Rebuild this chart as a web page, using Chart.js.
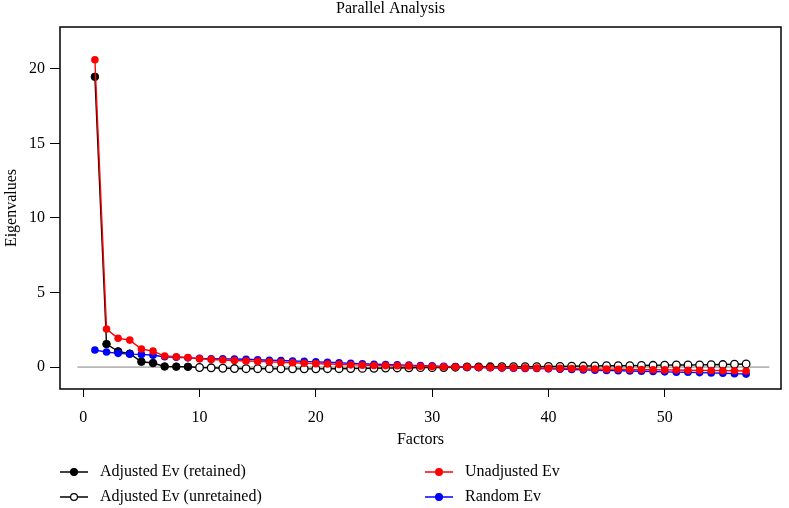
<!DOCTYPE html>
<html>
<head>
<meta charset="utf-8">
<script src="https://cdn.jsdelivr.net/npm/chart.js@4/dist/chart.umd.min.js"></script>
<style>
  html, body { margin: 0; padding: 0; background: #fff; }
  #contenedor { width: 789px; height: 508px; position: relative; }
</style>
</head>
<body>
<div id="contenedor"><canvas id="grafico"></canvas></div>
<script>
// eigenvalues, factor 1..57
const unadjustedEv = [20.6, 2.55, 1.93, 1.81, 1.21, 1.07, 0.74, 0.69, 0.64, 0.55,
  0.51, 0.47, 0.44, 0.41, 0.38, 0.35, 0.32, 0.29, 0.26, 0.23,
  0.21, 0.18, 0.15, 0.13, 0.11, 0.10, 0.09, 0.08, 0.06, 0.04,
  0.02, 0.01, 0.00, -0.02, -0.03, -0.04, -0.05, -0.06, -0.07, -0.08,
  -0.09, -0.10, -0.12, -0.13, -0.14, -0.15, -0.16, -0.17, -0.18, -0.19,
  -0.20, -0.21, -0.22, -0.23, -0.24, -0.25, -0.26];
const randomEv = [1.14, 1.01, 0.92, 0.87, 0.85, 0.79, 0.69, 0.66, 0.62, 0.58,
  0.56, 0.55, 0.54, 0.52, 0.49, 0.46, 0.44, 0.41, 0.38, 0.35,
  0.32, 0.29, 0.25, 0.22, 0.19, 0.17, 0.15, 0.13, 0.10, 0.08,
  0.05, 0.02, -0.01, -0.03, -0.05, -0.07, -0.08, -0.09, -0.10, -0.12,
  -0.14, -0.16, -0.19, -0.21, -0.23, -0.24, -0.26, -0.28, -0.30, -0.32,
  -0.34, -0.35, -0.37, -0.39, -0.41, -0.44, -0.47];
const adjustedEv = [19.46, 1.54, 1.05, 0.90, 0.36, 0.27, 0.04, 0.03, 0.02, -0.03,
  -0.05, -0.08, -0.10, -0.11, -0.11, -0.11, -0.12, -0.12, -0.12, -0.12,
  -0.11, -0.11, -0.10, -0.09, -0.08, -0.07, -0.06, -0.05, -0.04, -0.04,
  -0.03, -0.01, 0.01, 0.01, 0.02, 0.03, 0.03, 0.03, 0.03, 0.04,
  0.05, 0.06, 0.07, 0.08, 0.09, 0.09, 0.10, 0.11, 0.12, 0.13,
  0.14, 0.14, 0.15, 0.16, 0.17, 0.19, 0.21];
const nRetenidos = 9;
const xTicks = [0, 10, 20, 30, 40, 50];
const yTicks = [0, 5, 10, 15, 20];
const lineaCero = [-0.5, 59];
const etiquetas = ["Adjusted Ev (retained)", "Adjusted Ev (unretained)", "Unadjusted Ev", "Random Ev"];

const factores = unadjustedEv.map((_, i) => i + 1);
const puntos = (valores, desde) => valores.map((v, i) => ({ x: factores[i], y: v })).slice(desde || 0);

const fuente = "'Liberation Serif', 'DejaVu Serif', serif";

const datasets = [
  {
    label: etiquetas[2], data: puntos(unadjustedEv), order: 0,
    borderColor: "#ff0000", backgroundColor: "#ff0000", pointBorderColor: "#ff0000",
    borderWidth: 1.4, pointRadius: 3.8, pointBorderWidth: 0
  },
  {
    label: etiquetas[3], data: puntos(randomEv), order: 1,
    borderColor: "#0000ff", backgroundColor: "#0000ff", pointBorderColor: "#0000ff",
    borderWidth: 1.4, pointRadius: 3.8, pointBorderWidth: 0
  },
  {
    label: etiquetas[0], data: puntos(adjustedEv).slice(0, nRetenidos), order: 2,
    borderColor: "#000", backgroundColor: "#000", pointBorderColor: "#000",
    borderWidth: 1.4, pointRadius: 3.8, pointBorderWidth: 1
  },
  {
    label: etiquetas[1], data: puntos(adjustedEv, nRetenidos - 1), order: 3,
    borderColor: "#000", backgroundColor: "#fff", pointBorderColor: "#000",
    borderWidth: 1.4, pointRadius: (c) => (c.dataIndex === 0 ? 0 : 3.8), pointBorderWidth: 1.3
  },
  {
    label: "cero", data: lineaCero.map((x) => ({ x, y: 0 })), order: 4,
    borderColor: "#808080", borderWidth: 1, pointRadius: 0
  }
];

const marcoPlugin = {
  id: "marco",
  afterDraw(chart) {
    const { ctx, chartArea: a } = chart;
    ctx.save();
    ctx.strokeStyle = "#000";
    ctx.lineWidth = 1.5;
    ctx.strokeRect(a.left, a.top, a.right - a.left, a.bottom - a.top);
    ctx.restore();
  }
};

// leyenda en dos columnas, como la figura original
const leyendaPlugin = {
  id: "leyenda",
  afterDraw(chart) {
    const { ctx } = chart;
    const items = [
      { ds: chart.data.datasets[2], col: 60, fila: 472 },
      { ds: chart.data.datasets[3], col: 60, fila: 497 },
      { ds: chart.data.datasets[0], col: 425, fila: 472 },
      { ds: chart.data.datasets[1], col: 425, fila: 497 }
    ];
    ctx.save();
    items.forEach(({ ds, col, fila }) => {
      ctx.strokeStyle = ds.borderColor;
      ctx.lineWidth = 1.5;
      ctx.beginPath();
      ctx.moveTo(col, fila);
      ctx.lineTo(col + 28, fila);
      ctx.stroke();
      ctx.beginPath();
      ctx.arc(col + 14, fila, 3.4, 0, Math.PI * 2);
      ctx.fillStyle = ds.backgroundColor;
      ctx.fill();
      ctx.lineWidth = 1.2;
      ctx.strokeStyle = ds.pointBorderColor;
      ctx.stroke();
      ctx.fillStyle = "#000";
      ctx.font = "16px " + fuente;
      ctx.textBaseline = "middle";
      ctx.fillText(ds.label, col + 40, fila);
    });
    ctx.restore();
  }
};

new Chart(document.getElementById("grafico"), {
  type: "line",
  data: { datasets },
  plugins: [marcoPlugin, leyendaPlugin],
  options: {
    responsive: true,
    maintainAspectRatio: false,
    animation: false,
    layout: { padding: { left: 0, right: 8, top: 0, bottom: 59 } },
    plugins: {
      legend: { display: false },
      tooltip: { enabled: false },
      title: {
        display: true, text: "Parallel Analysis", color: "#000",
        font: { family: fuente, size: 16, weight: "normal", lineHeight: 1 },
        padding: { top: 1, bottom: 10 }
      }
    },
    scales: {
      x: {
        type: "linear", min: -2, max: 60,
        afterBuildTicks: (s) => { s.ticks = xTicks.map((value) => ({ value })); },
        afterFit: (s) => { s.height = 60; },
        grid: { drawOnChartArea: false, drawTicks: true, tickLength: 8, color: "#000", lineWidth: 1 },
        border: { display: false },
        ticks: { color: "#000", padding: 11, maxRotation: 0, font: { family: fuente, size: 16 } },
        title: {
          display: true, text: "Factors", color: "#000",
          font: { family: fuente, size: 16 }, padding: { top: 0, bottom: 0 }
        }
      },
      y: {
        min: -1.47, max: 22.8,
        afterBuildTicks: (s) => { s.ticks = yTicks.map((value) => ({ value })); },
        afterFit: (s) => { s.width = 60; },
        grid: { drawOnChartArea: false, drawTicks: true, tickLength: 10, color: "#000", lineWidth: 1 },
        border: { display: false },
        ticks: { color: "#000", padding: 5, font: { family: fuente, size: 16 } },
        title: {
          display: true, text: "Eigenvalues", color: "#000",
          font: { family: fuente, size: 16 }, padding: { top: 2.4, bottom: 0 }
        }
      }
    }
  }
});
</script>
</body>
</html>
